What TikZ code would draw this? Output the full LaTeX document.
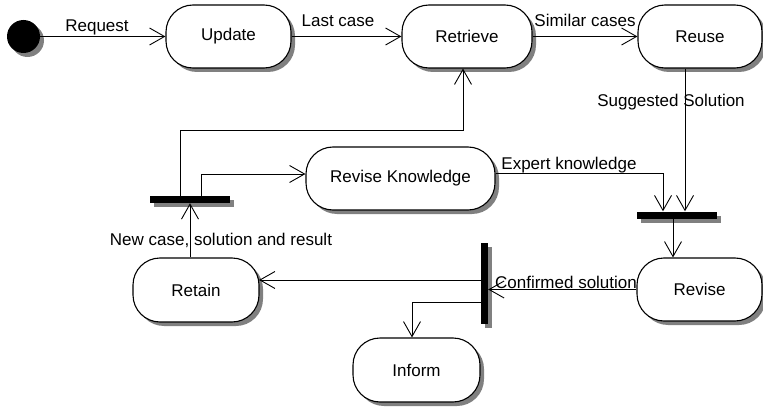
\documentclass[tikz,border=0pt]{standalone}
\usepackage{fontspec}
\setmainfont{Liberation Sans}
\usetikzlibrary{arrows.meta,calc,shadows}

\begin{document}
\begin{tikzpicture}[
  x=1pt, y=-1pt,
  every node/.style={font=\fontsize{17}{20}\selectfont},
  shade/.style={drop shadow={shadow xshift=4pt, shadow yshift=-4pt, fill=black!50, opacity=1}},
  activity/.style={draw, line width=1.1pt, fill=white, rounded corners=27pt,
    inner sep=0pt, minimum height=63pt, shade},
  bar/.style={fill=black, draw=none, inner sep=0pt, shade},
  arr/.style={line width=0.9pt, -{Straight Barb[length=15pt,width=17pt,line width=0.9pt]}},
  lbl/.style={anchor=base, inner sep=0pt},
]
\useasboundingbox (0,0) rectangle (763,409);
\clip (0,0) rectangle (763,409);

% initial state
\node[circle, fill=black, inner sep=0pt, minimum size=33pt, shade] (start) at (23.5,36.5) {};

% activities
\node[activity, minimum width=125pt] (update)   at (228.5,36.5) {Update};
\node[activity, minimum width=130pt] (retrieve) at (467,36.5)   {Retrieve};
\node[activity, minimum width=124pt] (reuse)    at (700,36.5)   {Reuse};
\node[activity, minimum width=189pt] (reviseK)  at (400.5,178.5) {Revise Knowledge};
\node[activity, minimum width=125pt, minimum height=63pt] (revise) at (699.5,289.5) {Revise};
\node[activity, minimum width=126pt, minimum height=64pt] (retain) at (196,290) {Retain};
\node[activity, minimum width=127pt, minimum height=64pt] (inform) at (416.5,370) {Inform};

% synchronisation bars
\node[bar, minimum width=80pt, minimum height=7pt] (bar1) at (677,215) {};
\node[bar, minimum width=7pt, minimum height=81pt] (bar2) at (484.5,283.5) {};
\node[bar, minimum width=80pt, minimum height=7pt] (bar3) at (190,199.5) {};

% transitions
\draw[arr] (start) -- (update);
\draw[arr] (update) -- (retrieve);
\draw[arr] (retrieve) -- (reuse);
\draw[arr] ($(reuse.south)+(-15,0)$) -- ($(bar1.north)+(8,0)$);
\draw[arr] ($(reviseK.east)+(0,-5.5)$) -| ($(bar1.north)+(-14,0)$);
\coordinate (drop) at ($(bar1.south)+(-4,0)$);
\draw[arr] (drop) -- (drop |- revise.north);
\draw[arr] (revise.west) -- (revise.west -| bar2.east);
\draw[arr] ($(bar2.west)+(0,-3.5)$) -- ($(retain.east)+(-0.5,-10)$);
\draw[arr] ($(bar2.west)+(0,18.5)$) -| ($(inform.north)+(-4.5,0)$);
\draw[arr] (bar3.south |- retain.north) -- (bar3.south);
\coordinate (loop) at (463,130.5);
\draw[arr] ($(bar3.north)+(-10,0)$) |- (loop) -- (loop |- retrieve.south);
\draw[arr] ($(bar3.north)+(11,0)$) |- ($(reviseK.west)+(0,-4.5)$);

% transition labels
\node[lbl] (lrequest) at (97,32)   {Request};
\node[lbl] (llast)    at (338,27)  {Last case};
\node[lbl] (lsimilar) at (585,27)  {Similar cases};
\node[lbl] (lsugg)    at (671,107) {Suggested Solution};
\node[lbl] (lexpert)  at (569,170) {Expert knowledge};
\node[lbl] (lnew)     at (221,245) {New case, solution and result};
\node[lbl] (lconf)    at (566,288) {Confirmed solution};
\end{tikzpicture}
\end{document}
